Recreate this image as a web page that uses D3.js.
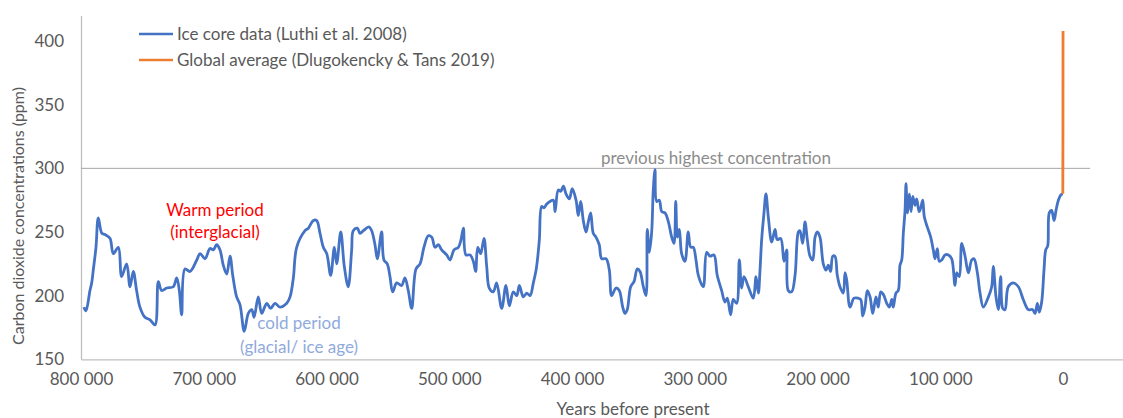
<!DOCTYPE html>
<html>
<head>
<meta charset="utf-8">
<script src="https://cdn.jsdelivr.net/npm/d3@7"></script>
<style>
  html, body { margin: 0; padding: 0; background: #fff; }
  svg { display: block; font-family: Lato, "Open Sans", "Noto Sans", sans-serif; }
</style>
</head>
<body>
<svg id="chart" width="1123" height="418"></svg>
<script>
// ---- Data (years before present, in thousands; CO2 in ppm) ----
const iceYearsK = [
  797.6,796,792.7,791.3,790,787.8,785.9,783,780.4,776.4,773.7,769.6,766.9,762.8,760.1,757.4,754.7,752,747.9,743.8,
  739.7,737,734.3,730.2,724.8,722,719.9,718,715.3,711.2,705.7,703,699,694.9,692.2,689.5,686.8,684.1,681.3,678.6,
  676.4,673.2,670.5,667,663.7,660.9,659,655.6,652.8,648.7,645.5,642,637.9,632.4,629.7,627,624.3,617.5,614.8,610.7,
  608,605.3,602.6,599.8,596.6,593.6,591.7,588.4,585.5,582.3,579.5,578.2,574.9,572.7,570,565.4,563.2,560.5,558.6,555.1,
  553.2,550.5,548.3,546.1,542.8,538.8,536.1,533.4,530.6,527.1,523.8,520.6,517.1,514.3,511.6,508.9,506.2,502.1,499.4,496.1,
  492.6,490.4,488.5,486.4,483.1,480.4,478.5,476.8,474.4,471.7,469.5,467.4,464.1,461.4,457.3,453.8,451.1,447.8,445,442.9,
  439.7,436.9,434.2,431.5,429.3,428.3,426.6,424.7,422.8,420.6,417.9,415.2,413.8,411.2,409.2,407,404.9,402.2,399.8,396.7,
  394.9,392.9,390.8,388.6,386.7,384.8,382.7,380.5,377.8,375.8,372.3,369.6,367.7,364.2,361.5,358.7,356.8,355,352.2,349.5,
  346.8,344.6,341.9,339.7,338.7,337,335.1,333.8,332.4,331,328.9,326.9,324.2,321.5,318.8,316.9,315.5,314.2,312.6,310.7,
  308,305.3,303.3,301.2,299,297.1,293.1,290.3,287.6,284.4,281.7,278.1,275.4,273.5,270.8,268.6,265.9,263.7,261.8,259.9,
  256.4,252.3,250.1,248.2,246.9,245.5,243.6,242,240.1,237.3,234.6,232.8,230,227.3,225.1,223.8,221.1,218.3,215.6,214.3,
  212.1,210.2,208.3,206.1,203.9,202,200.2,198,195.3,193.1,191.2,189.3,187.6,185.8,183.9,181.7,179,177.6,176.2,173.5,
  170.3,166.8,164.8,163.2,161.3,159.4,157.2,155,152.4,150.5,148.5,146.4,143.6,141.5,139.5,138.3,136.1,134.2,132.8,131.4,
  130.1,128.7,127.9,126.8,125.2,123.8,122.4,120.6,119.2,117.3,115.9,114.3,113,110.6,107.8,105.7,104.3,102.4,100.8,98.8,
  96.1,93.4,90.7,88,86.6,84.5,82.5,79.8,77.1,74.4,72.5,69.8,67.6,64.9,60.8,58.1,56.8,54.6,52.7,50.8,
  49.1,47.3,44.6,40.5,36.4,32.4,28.3,24.7,22.8,20.9,19.3,17.4,15.5,14.1,12.5,11.2,9.3,7.3,5.7,3.8,
  1.9,0.3
];
const iceCO2 = [
  191,188,204,210,220,238,261,249,248,245,233,238,215,225,207,219,204,191,183,181,
  177,211,204,206,207,214,204,185,221,219,228,233,229,237,236,240,236,224,217,231,
  216,199,193,172,186,189,183,199,186,194,190,194,191,194,199,214,238,251,253,259,
  259,249,238,233,216,238,225,250,223,207,236,251,253,249,251,254,251,240,229,250,
  228,225,215,203,210,208,214,204,190,221,225,238,247,246,238,240,236,232,228,236,
  238,244,253,232,232,227,219,238,233,245,223,206,203,210,190,208,192,203,200,208,
  199,202,200,210,220,227,244,270,269,272,274,275,266,283,282,286,280,276,284,275,
  263,274,259,250,258,265,249,246,240,229,229,220,200,206,204,191,186,189,207,211,
  221,219,207,200,252,234,250,283,299,274,275,266,265,258,246,241,274,246,252,233,
  227,250,238,238,228,216,207,234,231,232,216,204,195,198,185,197,194,228,206,215,
  207,198,215,202,219,244,265,280,262,242,252,244,245,227,236,204,203,216,250,251,
  241,258,244,231,228,246,250,246,225,220,224,219,231,231,216,207,202,218,212,191,
  198,198,197,184,191,204,199,186,199,191,203,201,194,191,197,191,202,204,224,228,
  249,267,288,265,280,266,278,271,276,266,269,275,262,254,246,236,229,237,227,228,
  232,232,229,208,218,215,241,231,218,228,229,218,202,191,199,207,223,199,189,215,
  190,189,207,210,207,197,189,189,186,194,187,195,220,236,239,265,267,259,267,275,
  279,280
];
// Global average (modern instrumental), years before present in thousands
const globalYearsK = [0.17, 0.04, 0];
const globalCO2 = [280, 339, 408];

const xTicks = [800000, 700000, 600000, 500000, 400000, 300000, 200000, 100000, 0];
const yTicks = [150, 200, 250, 300, 350, 400];
const seriesNames = ["Ice core data (Luthi et al. 2008)", "Global average (Dlugokencky & Tans 2019)"];
const seriesColors = ["#4472C4", "#ED7D31"];
const previousHighest = 300;

// ---- Chart ----
const svg = d3.select("#chart");
const x = d3.scaleLinear().domain([800000, -50000]).range([81, 1124.4]);
const y = d3.scaleLinear().domain([150, 420]).range([359.3, 15.6]);

const fmt = v => d3.format(",")(v).replace(/,/g, " ");

// x axis
const xAxis = svg.append("g").attr("transform", `translate(0,${y(150)})`)
  .call(d3.axisBottom(x).tickValues(xTicks).tickSize(0).tickPadding(14).tickFormat(fmt));
xAxis.select(".domain").attr("stroke", "#bfbfbf").attr("stroke-width", 1.3);
xAxis.selectAll("text").attr("fill", "#595959").attr("font-size", 17).attr("font-family", "Lato, sans-serif");

// y axis
const yAxis = svg.append("g").attr("transform", `translate(${x(800000)},0)`)
  .call(d3.axisLeft(y).tickValues(yTicks).tickSize(0).tickPadding(17));
yAxis.select(".domain").attr("stroke", "#bfbfbf").attr("stroke-width", 1.3);
yAxis.selectAll("text").attr("fill", "#595959").attr("font-size", 17).attr("font-family", "Lato, sans-serif");

// previous highest line
svg.append("line")
  .attr("x1", x(800000)).attr("x2", x(-22000))
  .attr("y1", y(previousHighest)).attr("y2", y(previousHighest))
  .attr("stroke", "#a6a6a6").attr("stroke-width", 1);

// series
const iceData = iceYearsK.map((k, i) => ({ yr: k * 1000, v: iceCO2[i] }));
const globalData = globalYearsK.map((k, i) => ({ yr: k * 1000, v: globalCO2[i] }));
const line = d3.line().x(d => x(d.yr)).y(d => y(d.v)).curve(d3.curveCatmullRom.alpha(0.5));

svg.append("path").datum(iceData).attr("d", line)
  .attr("fill", "none").attr("stroke", seriesColors[0]).attr("stroke-width", 2.8)
  .attr("stroke-linejoin", "round");
svg.append("path").datum(globalData).attr("d", d3.line().x(d => x(d.yr)).y(d => y(d.v)))
  .attr("fill", "none").attr("stroke", seriesColors[1]).attr("stroke-width", 2.8);

// legend
const legend = svg.append("g");
seriesNames.forEach((name, i) => {
  const yy = 34 + i * 26;
  legend.append("line").attr("x1", 139).attr("x2", 173).attr("y1", yy).attr("y2", yy)
    .attr("stroke", seriesColors[i]).attr("stroke-width", 2.6);
  legend.append("text").attr("x", 177).attr("y", yy).attr("dy", "0.35em")
    .attr("fill", "#595959").attr("font-size", 17).text(name);
});

// axis titles
svg.append("text").attr("transform", "translate(18,216) rotate(-90)")
  .attr("text-anchor", "middle").attr("dy", "0.35em")
  .attr("fill", "#595959").attr("font-size", 16).text("Carbon dioxide concentrations (ppm)");
svg.append("text").attr("x", 633).attr("y", 409).attr("dy", "0.35em")
  .attr("text-anchor", "middle").attr("fill", "#595959").attr("font-size", 17).text("Years before present");

// annotations
svg.append("text").attr("x", 601).attr("y", 158).attr("dy", "0.35em")
  .attr("fill", "#8c8c8c").attr("font-size", 17).text("previous highest concentration");
svg.append("text").attr("x", 215).attr("y", 210).attr("dy", "0.35em").attr("text-anchor", "middle")
  .attr("fill", "#FF0000").attr("font-size", 17).text("Warm period");
svg.append("text").attr("x", 215).attr("y", 232).attr("dy", "0.35em").attr("text-anchor", "middle")
  .attr("fill", "#FF0000").attr("font-size", 17).text("(interglacial)");
svg.append("text").attr("x", 299).attr("y", 323).attr("dy", "0.35em").attr("text-anchor", "middle")
  .attr("fill", "#8FAADC").attr("font-size", 17).text("cold period");
svg.append("text").attr("x", 299).attr("y", 347).attr("dy", "0.35em").attr("text-anchor", "middle")
  .attr("fill", "#8FAADC").attr("font-size", 17).text("(glacial/ ice age)");
</script>
</body>
</html>
